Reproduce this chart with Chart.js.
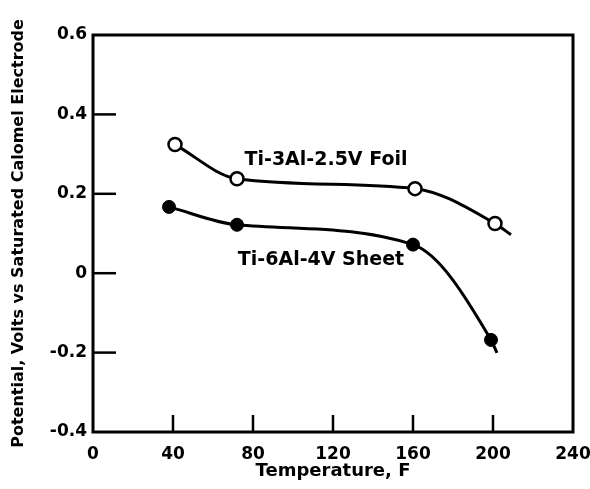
<!DOCTYPE html>
<html>
<head>
<meta charset="utf-8">
<script src="https://cdn.jsdelivr.net/npm/chart.js@4/dist/chart.umd.min.js"></script>
<style>
html, body { margin: 0; padding: 0; background: #fff; }
#wrap { width: 590px; height: 489px; }
</style>
</head>
<body>
<div id="wrap"><canvas id="potChart"></canvas></div>
<script>
// values; last entry of each series is the tail of the curve (no marker)
const foilTemps = [41, 72, 161, 201, 209];
const foilVolts = [0.324, 0.238, 0.213, 0.125, 0.097];
const sheetTemps = [38, 72, 160, 199, 202];
const sheetVolts = [0.167, 0.122, 0.072, -0.168, -0.201];
const seriesNames = ['Ti-3Al-2.5V Foil', 'Ti-6Al-4V Sheet'];
const xTickLabels = ['0', '40', '80', '120', '160', '200', '240'];
const yTickLabels = ['-0.4', '-0.2', '0', '0.2', '0.4', '0.6'];

// where the two curve names sit, in data units
const labelAnchors = [[116.5, 0.286], [114, 0.034]];

const toPoints = (xs, ys) => xs.map((x, i) => ({ x: x, y: ys[i] }));
const markerSizes = (n) => Array.from({ length: n }, (_, i) => i < n - 1 ? 6.5 : 0);

const tickFont = { family: '"DejaVu Sans", sans-serif', size: 17, weight: 'bold' };

const frame = {
    id: 'frame',
    afterDraw(chart) {
        const { ctx, chartArea: a, scales } = chart;
        ctx.save();
        ctx.strokeStyle = '#000';
        ctx.lineWidth = 3;
        ctx.strokeRect(a.left, a.top, a.right - a.left, a.bottom - a.top);

        // inward tick marks
        ctx.lineWidth = 2.5;
        scales.x.ticks.forEach(t => {
            if (t.value <= 0 || t.value >= 240) return;
            const px = scales.x.getPixelForValue(t.value);
            ctx.beginPath();
            ctx.moveTo(px, a.bottom);
            ctx.lineTo(px, a.bottom - 17);
            ctx.stroke();
        });
        scales.y.ticks.forEach(t => {
            if (t.value <= -0.4 + 1e-9 || t.value >= 0.6 - 1e-9) return;
            const py = scales.y.getPixelForValue(t.value);
            ctx.beginPath();
            ctx.moveTo(a.left, py);
            ctx.lineTo(a.left + 23, py);
            ctx.stroke();
        });

        // curve names
        ctx.fillStyle = '#000';
        ctx.font = 'bold 19px "DejaVu Sans", sans-serif';
        ctx.textAlign = 'center';
        ctx.textBaseline = 'middle';
        seriesNames.forEach((name, i) => {
            const [lx, ly] = labelAnchors[i];
            ctx.fillText(name, scales.x.getPixelForValue(lx), scales.y.getPixelForValue(ly));
        });
        ctx.restore();
    }
};

const ctx = document.getElementById('potChart').getContext('2d');
const chart = new Chart(ctx, {
    type: 'line',
    data: {
        datasets: [{
            label: seriesNames[0],
            data: toPoints(foilTemps, foilVolts),
            borderColor: '#000',
            borderWidth: 3,
            backgroundColor: '#fff',
            pointBackgroundColor: '#fff',
            pointBorderColor: '#000',
            pointBorderWidth: 2.5,
            pointRadius: markerSizes(foilTemps.length),
            cubicInterpolationMode: 'monotone',
            fill: false
        }, {
            label: seriesNames[1],
            data: toPoints(sheetTemps, sheetVolts),
            borderColor: '#000',
            borderWidth: 3,
            backgroundColor: '#000',
            pointBackgroundColor: '#000',
            pointBorderColor: '#000',
            pointBorderWidth: 1,
            pointRadius: markerSizes(sheetTemps.length),
            cubicInterpolationMode: 'monotone',
            fill: false
        }]
    },
    options: {
        responsive: true,
        maintainAspectRatio: false,
        animation: false,
        layout: { padding: { left: 0, top: 35, right: 17, bottom: 0 } },
        plugins: {
            legend: { display: false },
            tooltip: { enabled: false }
        },
        scales: {
            x: {
                type: 'linear',
                min: 0,
                max: 240,
                afterFit(s) {
                    s.height = 57;
                    s.paddingLeft = 0;
                    s.paddingRight = 0;
                },
                grid: { display: false, drawTicks: false },
                border: { display: false },
                ticks: {
                    stepSize: 40,
                    padding: 12,
                    color: '#000',
                    maxRotation: 0,
                    font: tickFont,
                    callback: (v, i) => xTickLabels[i]
                },
                title: {
                    display: true,
                    text: 'Temperature, F',
                    color: '#000',
                    padding: { top: 0, bottom: 7 },
                    font: { family: '"DejaVu Sans", sans-serif', size: 18, weight: 'bold' }
                }
            },
            y: {
                min: -0.4,
                max: 0.6,
                afterFit(s) { s.width = 93; },
                grid: { display: false, drawTicks: false },
                border: { display: false },
                ticks: {
                    stepSize: 0.2,
                    padding: 6,
                    color: '#000',
                    font: tickFont,
                    callback: (v, i) => yTickLabels[i]
                },
                title: {
                    display: true,
                    text: 'Potential, Volts vs Saturated Calomel Electrode',
                    color: '#000',
                    padding: { top: 9, bottom: 0 },
                    font: { family: '"DejaVu Sans", sans-serif', size: 16, weight: 'bold' }
                }
            }
        }
    },
    plugins: [frame]
});
</script>
</body>
</html>
